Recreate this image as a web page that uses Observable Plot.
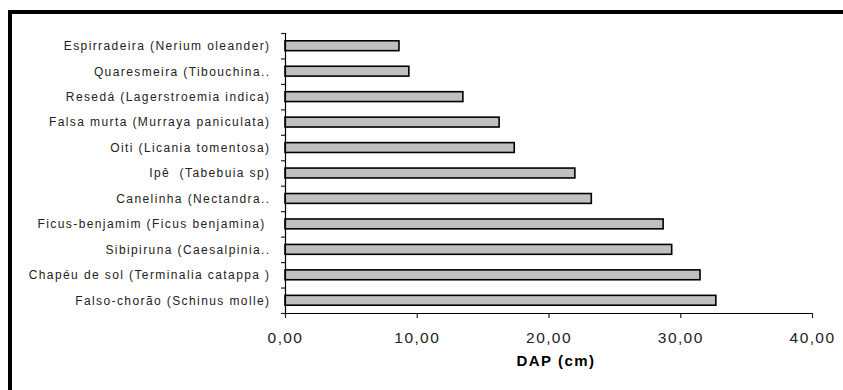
<!DOCTYPE html>
<html>
<head>
<meta charset="utf-8">
<script src="https://cdn.jsdelivr.net/npm/d3@7"></script>
<script src="https://cdn.jsdelivr.net/npm/@observablehq/plot@0.6"></script>
<style>
  html, body { margin: 0; padding: 0; background: #fff; }
  #wrap { position: relative; width: 843px; height: 390px; overflow: hidden; }
  #border { position: absolute; left: 8px; top: 10px; width: 900px; height: 500px;
            border-left: 4px solid #000; border-top: 4px solid #000; pointer-events: none; }
  svg { font-family: "Liberation Sans", Arial, sans-serif; }
  .names text { letter-spacing: 1.4px; }
  .xticks text { letter-spacing: 1.4px; }
  .xtitle text { letter-spacing: 1.5px; }
</style>
</head>
<body>
<div id="wrap"><div id="border"></div></div>
<script>
// Species, listed top to bottom
const species = [
  "Espirradeira (Nerium oleander)",
  "Quaresmeira (Tibouchina..",
  "Resedá (Lagerstroemia indica)",
  "Falsa murta (Murraya paniculata)",
  "Oiti (Licania tomentosa)",
  "Ipê  (Tabebuia sp)",
  "Canelinha (Nectandra..",
  "Ficus-benjamim (Ficus benjamina) ",
  "Sibipiruna (Caesalpinia..",
  "Chapéu de sol (Terminalia catappa )",
  "Falso-chorão (Schinus molle)"
];
// Mean trunk diameter at breast height (cm)
const dap = [8.65, 9.4, 13.5, 16.25, 17.4, 22.0, 23.25, 28.7, 29.35, 31.5, 32.7];
const xTicks = [0, 10, 20, 30, 40];

const rows = species.map((name, i) => ({name, i, dap: dap[i]}));
const fmt = d => d.toFixed(2).replace(".", ",");

const chart = Plot.plot({
  width: 843,
  height: 390,
  marginLeft: 285,
  marginRight: 31,
  marginTop: 33,
  marginBottom: 77,
  style: {background: "transparent", color: "#222", overflow: "visible"},
  x: {domain: [0, 40]},
  y: {domain: [0, species.length], reverse: true},
  marks: [
    Plot.rect(rows, {
      x1: 0, x2: "dap", y1: "i", y2: d => d.i + 1,
      insetTop: 7.8, insetBottom: 7.8,
      fill: "#c0c0c0", stroke: "#000", strokeWidth: 1.6
    }),
    // category boundaries
    Plot.axisY({ticks: d3.range(species.length + 1), tickSize: 4, tickFormat: () => "",
                strokeWidth: 1.2, label: null}),
    // category names centred in each band
    Plot.axisY({ticks: species.map((_, i) => i + 0.5), tickSize: 0, tickPadding: 15,
                tickFormat: v => species[Math.floor(v)], fontSize: 12, label: null, className: "names"}),
    Plot.ruleX([0], {stroke: "#000", strokeWidth: 1.2}),
    Plot.ruleY([species.length], {stroke: "#000", strokeWidth: 1.2}),
    Plot.axisX({ticks: xTicks, tickFormat: fmt, tickSize: 5, tickPadding: 13, fontSize: 15.5,
                strokeWidth: 1.2, label: null, className: "xticks"}),
    Plot.text(["DAP (cm)"], {frameAnchor: "bottom", dx: 7, dy: 52, fontWeight: "bold", fontSize: 15,
                             fill: "#000", className: "xtitle"})
  ]
});
document.getElementById("wrap").prepend(chart);
</script>
</body>
</html>
